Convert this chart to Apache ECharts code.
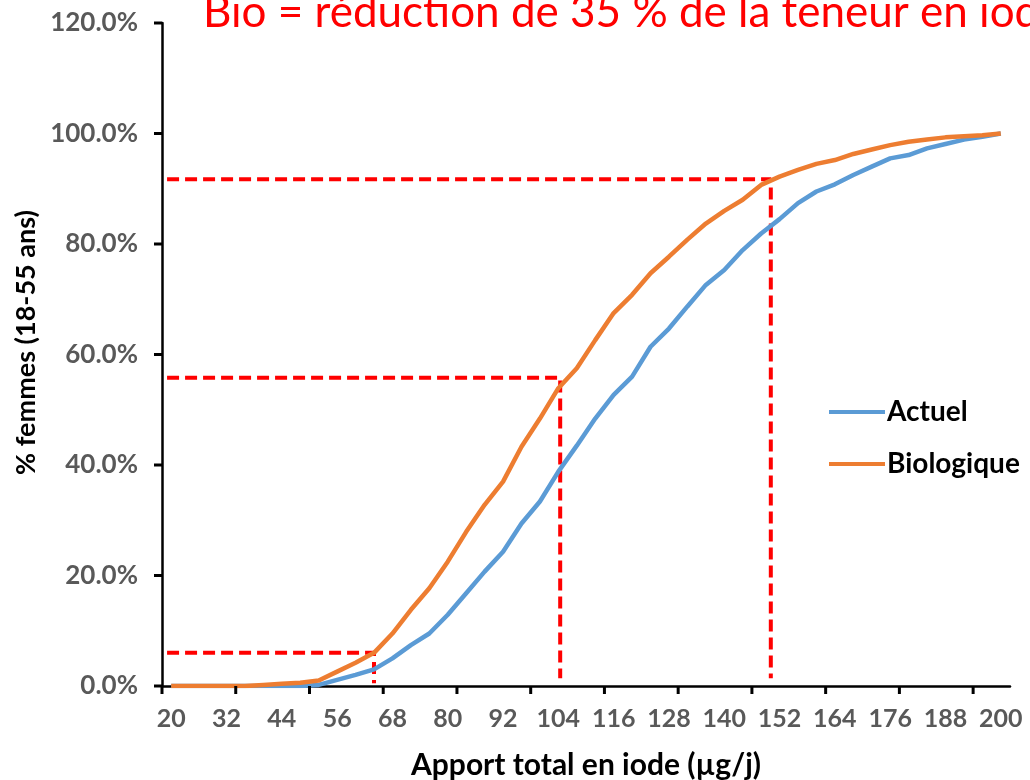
<!DOCTYPE html>
<html>
<head>
<meta charset="utf-8">
<script src="https://cdn.jsdelivr.net/npm/echarts@6/dist/echarts.min.js"></script>
<style>
html,body{margin:0;padding:0;background:#fff;}
#chart{width:1030px;height:780px;}
</style>
</head>
<body>
<div id="chart"></div>
<script>
// Apport total en iode (µg/j)
const apport = [20,24,28,32,36,40,44,48,52,56,60,64,68,72,76,80,84,88,92,96,100,104,108,112,116,120,124,128,132,136,140,144,148,152,156,160,164,168,172,176,180,184,188,192,196,200];
// % femmes (cumulative), scenario actuel
const actuel = [0,0,0,0,0,0,0,0,0.2,1.1,2.0,3.0,5.0,7.4,9.5,12.9,16.8,20.7,24.3,29.4,33.4,38.8,43.5,48.4,52.7,56.0,61.4,64.7,68.7,72.6,75.3,78.9,81.9,84.5,87.4,89.5,90.8,92.5,94.0,95.5,96.1,97.3,98.1,98.9,99.4,100];
// % femmes (cumulative), scenario biologique
const biologique = [0,0,0,0,0,0.2,0.4,0.6,1.0,2.6,4.2,6.0,9.5,13.8,17.7,22.5,27.9,32.8,37.0,43.3,48.4,53.9,57.5,62.6,67.5,70.8,74.7,77.7,80.8,83.7,86.0,88.0,90.7,92.2,93.4,94.5,95.2,96.3,97.1,97.9,98.5,98.9,99.3,99.5,99.7,100];
// x-axis tick marks (between categories, in µg/j)
const xTickBounds = [18,34,50,66,82,98,114,130,146,162,178,194];
// y-axis ticks (%)
const yTicks = [0,20,40,60,80,100,120];
// red dashed guides (x in µg/j, y in %)
const guideX = [64, 104.4, 150.1];
const guideY = [6.0, 55.8, 91.7];
const guideBottom = [0.5, 1.4, 1.4];
const guideStart = 19.1;

const titleText = 'Bio = réduction de 35 % de la teneur en iode';
const seriesNames = ['Actuel', 'Biologique'];

const chart = echarts.init(document.getElementById('chart'), null, {renderer:'canvas'});

const guideSeries = guideX.map((gx, i) => ({
  type: 'line',
  xAxisIndex: 1,
  data: [[guideStart, guideY[i]], [gx, guideY[i]], [gx, guideBottom[i]]],
  symbol: 'none',
  silent: true,
  z: 1,
  lineStyle: {color: '#FF0000', width: 4, type: [12, 6]}
}));

const tickStyle = {stroke: '#000', lineWidth: 3};
const xTickSeries = {
  type: 'custom', xAxisIndex: 1, silent: true, clip: false, z: 6,
  data: xTickBounds.map(v => [v, 0]),
  renderItem: function (params, api) {
    const p = api.coord([api.value(0), 0]);
    return {type: 'line', shape: {x1: p[0], y1: p[1], x2: p[0], y2: p[1] + 8}, style: tickStyle};
  }
};
const yTickSeries = {
  type: 'custom', xAxisIndex: 1, silent: true, clip: false, z: 6,
  data: yTicks.map(v => [18, v]),
  renderItem: function (params, api) {
    const p = api.coord([api.value(0), api.value(1)]);
    return {type: 'line', shape: {x1: p[0] - 8, y1: p[1], x2: p[0], y2: p[1]}, style: tickStyle};
  }
};

const labelFont = {fontFamily: 'Lato', fontWeight: 'bold', color: '#595959'};

chart.setOption({
  backgroundColor: '#ffffff',
  animation: false,
  grid: {left: 162, right: 20, top: 23, bottom: 94, containLabel: false, outerBoundsMode: 'none'},
  graphic: [{
    type: 'text', left: 203, top: -9, z: 10,
    style: {text: titleText, fill: '#FF0000', font: '44px Lato'}
  }],
  legend: {
    orient: 'vertical', left: 824, top: 392,
    itemWidth: 56, itemHeight: 4, itemGap: 22, icon: 'rect',
    data: seriesNames,
    textStyle: {fontFamily: 'Lato', fontWeight: 'bold', fontSize: 28, lineHeight: 30, color: '#000', padding: [0,0,0,-3]}
  },
  xAxis: [{
    type: 'category',
    data: apport.map(String),
    boundaryGap: true,
    position: 'bottom',
    name: 'Apport total en iode (µg/j)',
    nameLocation: 'middle', nameGap: 64,
    nameTextStyle: {fontFamily: 'Lato', fontWeight: 'bold', fontSize: 30, color: '#000'},
    axisLine: {show: true, onZero: false, lineStyle: {color: '#000', width: 2.5}},
    axisTick: {show: false},
    axisLabel: Object.assign({interval: 2, fontSize: 25, margin: 20}, labelFont),
    splitLine: {show: false}
  }, {
    type: 'value', min: 18, max: 202, position: 'bottom', show: false
  }],
  yAxis: {
    type: 'value', min: 0, max: 120, interval: 20,
    name: '% femmes (18-55 ans)',
    nameLocation: 'middle', nameGap: 118,
    nameTextStyle: {fontFamily: 'Lato', fontWeight: 'bold', fontSize: 27, color: '#000', padding: [0, 0, 0, 24]},
    axisLine: {show: true, lineStyle: {color: '#000', width: 2.5}},
    axisTick: {show: false},
    axisLabel: Object.assign({fontSize: 26, margin: 24, formatter: v => v.toFixed(1) + '%'}, labelFont),
    splitLine: {show: false}
  },
  series: guideSeries.concat([
    {name: 'Actuel', type: 'line', data: actuel, symbol: 'none', z: 3,
     lineStyle: {color: '#5B9BD5', width: 4.5}, itemStyle: {color: '#5B9BD5'}},
    {name: 'Biologique', type: 'line', data: biologique, symbol: 'none', z: 4,
     lineStyle: {color: '#ED7D31', width: 4.5}, itemStyle: {color: '#ED7D31'}},
    xTickSeries, yTickSeries
  ])
});
</script>
</body>
</html>
